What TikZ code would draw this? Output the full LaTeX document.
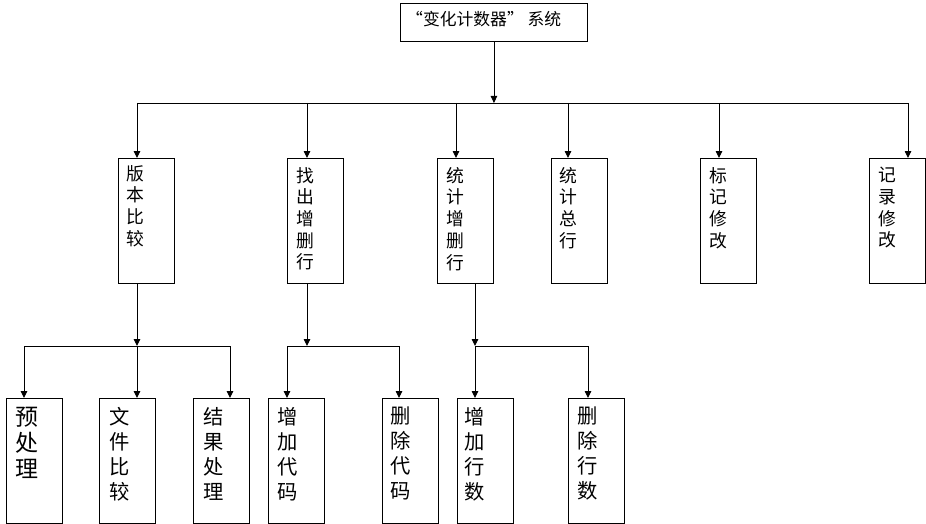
\documentclass[tikz,border=0pt]{standalone}
\usepackage{fontspec}
\setmainfont{Noto Sans CJK SC}
\usetikzlibrary{arrows.meta}
\begin{document}
\begin{tikzpicture}[x=1pt,y=-1pt,
  box/.style={draw=black,line width=0.9pt,inner sep=0pt,anchor=north west},
  boxtwo/.style={box,minimum width=56pt,minimum height=125pt},
  boxthree/.style={box,minimum width=56pt,minimum height=125pt},
  ln/.style={draw=black,line width=0.9pt},
  arr/.style={draw=black,line width=0.9pt,-{Triangle[length=7pt,width=6.5pt]}},
  labtwo/.style={anchor=north west,inner sep=0pt,align=left,font=\fontsize{17.8}{21.7}\selectfont},
  labthree/.style={anchor=north west,inner sep=0pt,align=left,font=\fontsize{20.3}{25}\selectfont},
  labbig/.style={anchor=north west,inner sep=0pt,align=left,font=\fontsize{23}{26}\selectfont},
]
\useasboundingbox (0,0) rectangle (926,524);

% top box
\node[box,minimum width=187pt,minimum height=38pt] (top) at (400,3) {};
\node[anchor=base west,inner sep=0pt,font=\fontsize{16.8}{19}\selectfont] (toptext) at (406,25.5) {“变化计数器”\ 系统};

% level two boxes
\node[boxtwo] (v1) at (118,158) {};
\node[boxtwo] (v2) at (287,158) {};
\node[boxtwo] (v3) at (437,158) {};
\node[boxtwo] (v4) at (551,158) {};
\node[boxtwo] (v5) at (700,158) {};
\node[boxtwo] (v6) at (869,158) {};

\node[labtwo] (t1) at (126,165) {版\\本\\比\\较};
\node[labtwo] (t2) at (296,167) {找\\出\\增\\删\\行};
\node[labtwo] (t3) at (446,167) {统\\计\\增\\删\\行};
\node[labtwo] (t4) at (559,167) {统\\计\\总\\行};
\node[labtwo] (t5) at (709,167) {标\\记\\修\\改};
\node[labtwo] (t6) at (878,167) {记\\录\\修\\改};

% level three boxes
\node[boxthree] (w1) at (6,398) {};
\node[boxthree] (w2) at (99,398) {};
\node[boxthree] (w3) at (193,398) {};
\node[boxthree] (w4) at (268,398) {};
\node[boxthree] (w5) at (382,398) {};
\node[boxthree] (w6) at (457,398) {};
\node[boxthree] (w7) at (568,398) {};

\node[labbig] (s1) at (15,407) {预\\处\\理};
\node[labthree] (s2) at (109,407) {文\\件\\比\\较};
\node[labthree] (s3) at (203,407) {结\\果\\处\\理};
\node[labthree] (s4) at (277,407) {增\\加\\代\\码};
\node[labthree] (s5) at (390,407) {删\\除\\代\\码};
\node[labthree] (s6) at (464,407) {增\\加\\行\\数};
\node[labthree] (s7) at (577,407) {删\\除\\行\\数};

% junctions on the upper bar
\coordinate (j1) at (137,103);
\coordinate (j2) at (307,103);
\coordinate (j3) at (456,103);
\coordinate (j4) at (568,103);
\coordinate (j5) at (719,103);
\coordinate (j6) at (908,103);

\draw[arr] (top.south) -- (top.south |- j1);
\draw[ln] (j1) -- (j6);
\draw[arr] (j1) -- (j1 |- v1.north);
\draw[arr] (j2) -- (j2 |- v2.north);
\draw[arr] (j3) -- (j3 |- v3.north);
\draw[arr] (j4) -- (j4 |- v4.north);
\draw[arr] (j5) -- (j5 |- v5.north);
\draw[arr] (j6) -- (j6 |- v6.north);

% group one
\coordinate (k1) at (137,346);
\coordinate (k1a) at (24,346);
\coordinate (k1c) at (230,346);
\draw[arr] (k1 |- v1.south) -- (k1);
\draw[ln] (k1a) -- (k1c);
\draw[arr] (k1a) -- (k1a |- w1.north);
\draw[arr] (k1) -- (k1 |- w2.north);
\draw[arr] (k1c) -- (k1c |- w3.north);

% group two
\coordinate (k2) at (307,346);
\coordinate (k2a) at (287,346);
\coordinate (k2c) at (399,346);
\draw[arr] (k2 |- v2.south) -- (k2);
\draw[ln] (k2a) -- (k2c);
\draw[arr] (k2a) -- (k2a |- w4.north);
\draw[arr] (k2c) -- (k2c |- w5.north);

% group three
\coordinate (k3) at (475,346);
\coordinate (k3c) at (588,346);
\draw[arr] (k3 |- v3.south) -- (k3);
\draw[ln] (k3) -- (k3c);
\draw[arr] (k3) -- (k3 |- w6.north);
\draw[arr] (k3c) -- (k3c |- w7.north);
\end{tikzpicture}
\end{document}
